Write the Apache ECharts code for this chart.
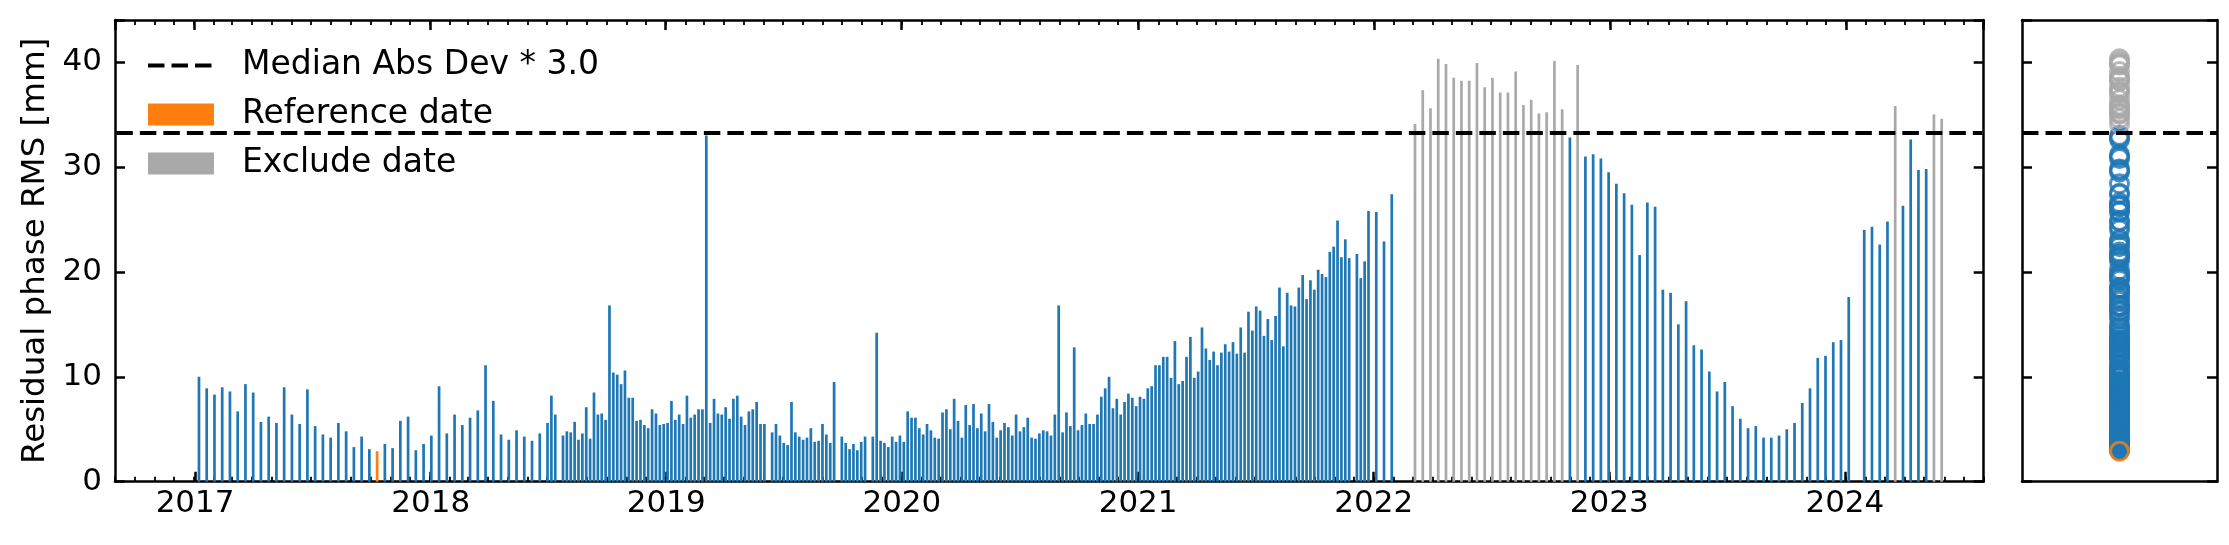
<!DOCTYPE html>
<html><head><meta charset="utf-8">
<script src="https://cdn.jsdelivr.net/npm/echarts@6/dist/echarts.min.js"></script>
<style>html,body{margin:0;padding:0;background:#fff}#c{width:2229px;height:545px}</style>
</head><body><div id="c"></div>
<script>
// ---------------- data ----------------
// acquisition dates, in days since 2017-01-01
const acqDay = [
  // 2017 - mid 2018 (12-day)
  6,18,30,42,54,66,78,90,102,114,126,138,150,162,174,186,198,210,222,234,246,258,270,282,294,306,318,330,342,354,366,378,390,402,414,426,438,450,462,474,486,498,510,
  // mid 2018 - 2019 (6-day)
  522,534,546,552,558,
  570,576,582,588,594,600,606,612,618,624,630,636,642,648,654,660,666,672,678,684,690,696,702,708,714,720,726,732,738,744,750,756,762,768,774,780,786,792,798,804,810,816,822,828,834,840,846,852,858,864,870,876,882,
  894,900,906,912,918,924,930,936,942,948,954,960,966,972,978,984,990,
  1002,1008,1014,1020,1026,1032,1038,
  1050,1056,
  // 2019.9 - 2021.6
  1062,1068,1074,1080,1086,1092,1098,1104,1110,1116,1122,1128,1134,1140,1146,1152,1158,1164,1170,1176,1182,1188,1194,1200,1206,1212,1218,1224,1230,1236,1242,1248,1254,1260,1266,1272,1278,1284,1290,1296,1302,1308,1314,1320,1326,1332,1338,1344,1350,1356,1362,1368,1374,1380,1386,1392,1398,1404,1410,1416,1422,1428,1434,1440,1446,1452,1458,1464,1470,1476,1482,1488,1494,1500,1506,1512,1518,1524,1530,1536,1542,1548,1554,1560,1566,1572,1578,1584,1590,1596,1602,1608,1614,1620,1626,1632,1638,1644,1650,1656,1662,1668,1674,
  // late 2021 - early 2022
  1680,1686,1692,1698,1704,1710,1716,1722,1728,1734,1740,1746,1752,1758,1764,1770,1776,1782,1788,1800,1806,1812,1818,1830,1842,1854,
  // 2022 - 2024 (12-day)
  1890,1902,1914,1926,1938,1950,1962,1974,1986,1998,2010,2022,2034,2046,2058,2070,2082,2094,2106,2118,2130,2142,2154,2166,2178,2190,2202,2214,2226,2238,2250,2262,2274,2286,2298,2310,2322,2334,2346,2358,2370,2382,2394,2406,2418,2430,2442,2454,2466,2478,2490,2502,2514,2526,2538,2550,2562,
  2586,2598,2610,2622,2634,2646,2658,2670,2682,2694,2706
];
// residual phase RMS [mm], one value per acquisition date
const rms = [
  10.0,8.9,8.3,9.0,8.6,6.7,9.3,8.5,5.7,6.2,5.6,9.0,6.4,5.5,8.8,5.3,4.5,4.2,5.6,4.8,3.3,4.3,3.1,2.9,3.6,3.2,5.8,6.2,3.0,3.6,4.4,9.1,4.6,6.4,5.4,6.1,6.8,11.1,7.7,4.5,4.0,4.9,4.3,
  3.9,4.6,5.6,8.2,6.4,
  4.4,4.8,4.7,5.7,4.0,4.6,7.1,4.1,8.5,6.4,6.5,5.9,16.8,10.4,10.2,9.3,10.6,8.0,8.0,5.8,5.9,5.4,5.1,6.9,6.5,5.4,5.5,5.6,7.7,5.9,6.4,5.5,8.2,6.1,6.4,6.9,6.9,33.0,5.6,7.9,6.5,6.4,7.1,6.0,7.9,8.2,6.2,5.4,6.7,6.9,7.6,5.5,5.5,
  4.7,5.5,4.4,3.7,3.5,7.6,4.7,4.3,4.0,4.2,5.1,3.8,3.9,5.5,4.5,3.7,9.5,
  4.3,3.7,3.1,3.6,3.0,3.8,4.3,
  4.3,14.2,
  3.9,3.7,3.3,4.3,3.8,4.4,3.8,6.7,6.1,6.1,
  5.1,4.5,5.5,4.9,4.2,4.1,6.6,6.9,5.0,7.9,
  5.8,4.2,7.3,5.4,7.4,5.1,6.5,4.8,7.4,5.7,
  4.2,4.9,5.6,5.2,4.4,6.4,4.8,5.2,6.1,4.2,
  4.1,4.6,4.9,4.8,4.4,6.4,16.8,4.7,6.6,5.3,
  12.8,4.9,5.4,6.5,5.5,5.5,6.4,8.1,8.9,10.0,
  7.0,7.9,6.4,7.6,8.4,8.0,7.2,8.1,7.9,8.9,
  9.1,11.1,11.1,11.9,11.9,9.9,13.4,9.3,9.6,11.9,
  13.8,9.9,10.5,14.7,12.7,11.6,12.4,11.1,12.3,13.1,
  12.4,13.3,12.2,14.7,12.3,16.2,14.4,16.7,16.3,13.9,
  15.5,13.5,15.8,
  18.5,12.9,18.0,16.8,16.7,18.5,19.7,17.4,19.2,18.3,20.2,19.8,19.5,21.9,22.4,24.9,21.4,23.1,21.3,21.7,19.4,21.0,25.8,25.7,22.9,27.4,
  34.1,37.3,35.6,40.3,39.8,38.5,38.2,38.2,39.9,37.6,38.5,37.1,37.1,39.1,35.9,36.4,35.1,35.2,40.1,35.5,32.8,39.7,31.0,31.2,30.8,29.5,28.4,27.5,26.4,21.6,26.6,26.2,18.3,18.0,15.0,17.2,13.0,12.6,10.5,8.6,9.5,7.2,6.0,5.1,5.3,4.2,4.2,4.4,5.0,5.6,7.5,8.9,11.8,12.0,13.3,13.5,17.6,
  24.0,24.3,22.6,24.8,35.8,26.3,32.6,29.7,29.8,35.0,34.6
];
const referenceDay = 282;   // reference date (orange)
const excludeDays = [1890,1902,1914,1926,1938,1950,1962,1974,1986,1998,2010,2022,2034,2046,2058,2070,2082,2094,2106,2118,2142,2634,2694,2706];
const threshold = 33.24;    // Median Abs Dev * 3.0
const yTicks = [0, 10, 20, 30, 40];
const legendNames = ['Median Abs Dev * 3.0', 'Reference date', 'Exclude date'];

// ---------------- build ----------------
const DAY = 86400000;
const EPOCH = Date.UTC(2017, 0, 1);
const X_MIN = Date.UTC(2016, 8, 1), X_MAX = Date.UTC(2024, 7, 1);
const normal = [], ref = [], excl = [], sNormal = [], sRef = [], sExcl = [];
acqDay.forEach((d, i) => {
  const t = EPOCH + d * DAY, v = rms[i];
  if (d === referenceDay) { ref.push([t, v]); sRef.push([0, v]); }
  else if (excludeDays.indexOf(d) >= 0) { excl.push([t, v]); sExcl.push([0, v]); }
  else { normal.push([t, v]); sNormal.push([0, v]); }
});
if (acqDay.length !== rms.length) console.warn('length mismatch', acqDay.length, rms.length);

const FONT = 'DejaVu Sans';
const BLUE = '#1f77b4', ORANGE = '#ff7f0e', GRAY = '#a9a9a9';
const FRAME = { show: true, onZero: false, lineStyle: { color: '#000', width: 2.5 } };
const DASH = { color: '#000', width: 4, type: [16.5, 7] };
const BAR_W = 2.7;
const yearLabel = v => { const d = new Date(v); return (d.getUTCMonth() === 0 && d.getUTCDate() === 1) ? String(d.getUTCFullYear()) : ''; };

function timeAxis(pos, major, labels) {
  return {
    type: 'time', gridIndex: 0, position: pos, min: X_MIN, max: X_MAX,
    minInterval: major ? 365 * DAY : 28 * DAY, maxInterval: major ? 366 * DAY : 31 * DAY,
    axisLine: major ? FRAME : { show: false, onZero: false },
    axisTick: { show: true, inside: true, length: major ? 10 : 5, lineStyle: { color: '#000', width: major ? 2.5 : 1.8 } },
    axisLabel: labels ? { show: true, formatter: yearLabel, fontSize: 31, color: '#000', fontFamily: FONT, margin: 7, hideOverlap: false } : { show: false },
    splitLine: { show: false }, minorTick: { show: false }
  };
}
function yAxis(grid, pos, labels) {
  return {
    type: 'value', gridIndex: grid, position: pos, min: 0, max: 44, interval: 10,
    axisLine: FRAME,
    axisTick: { show: true, inside: true, length: 10, lineStyle: { color: '#000', width: 2.5 } },
    axisLabel: labels ? { show: true, fontSize: 31, color: '#000', fontFamily: FONT, margin: 13,
      formatter: v => yTicks.indexOf(v) >= 0 ? String(v) : '' } : { show: false },
    splitLine: { show: false },
    name: labels ? 'Residual phase RMS [mm]' : '', nameLocation: 'middle', nameGap: 62,
    nameTextStyle: { fontSize: 32.5, color: '#000', fontFamily: FONT }
  };
}
function sideX(pos) {
  return { type: 'value', gridIndex: 1, position: pos, min: -1, max: 1, axisLine: FRAME,
    axisTick: { show: false }, axisLabel: { show: false }, splitLine: { show: false } };
}
const circle = c => ({ color: 'rgba(0,0,0,0)', borderColor: c, borderWidth: 3 });

const option = {
  animation: false, useUTC: true,
  textStyle: { fontFamily: FONT },
  grid: [
    { left: 115, top: 20, width: 1868.7, height: 461.7, outerBoundsMode: 'none', containLabel: false },
    { left: 2022, top: 20, width: 195, height: 461.7, outerBoundsMode: 'none', containLabel: false }
  ],
  legend: {
    orient: 'vertical', left: 146, top: 49, padding: 0, itemWidth: 66, itemHeight: 22, itemGap: 16,
    selectedMode: false,
    lineStyle: { width: 4 },
    data: [{ name: legendNames[0], itemStyle: { opacity: 0 } }, { name: legendNames[1], icon: 'rect' }, { name: legendNames[2], icon: 'rect' }],
    textStyle: { fontSize: 33, color: '#000', fontFamily: FONT, lineHeight: 33, padding: [0, 0, 0, 23] }
  },
  xAxis: [timeAxis('bottom', true, true), timeAxis('bottom', false, false), timeAxis('top', true, false), timeAxis('top', false, false), sideX('bottom'), sideX('top')],
  yAxis: [yAxis(0, 'left', true), yAxis(0, 'right', false), yAxis(1, 'left', false), yAxis(1, 'right', false)],
  series: [
    { name: 'Residual', type: 'bar', xAxisIndex: 0, yAxisIndex: 0, data: normal, barWidth: BAR_W, barGap: '-100%', itemStyle: { color: BLUE }, silent: true },
    { name: legendNames[1], type: 'bar', xAxisIndex: 0, yAxisIndex: 0, data: ref, barWidth: BAR_W, barGap: '-100%', itemStyle: { color: ORANGE }, silent: true },
    { name: legendNames[2], type: 'bar', xAxisIndex: 0, yAxisIndex: 0, data: excl, barWidth: BAR_W, barGap: '-100%', itemStyle: { color: GRAY }, silent: true },
    { name: legendNames[0], type: 'line', xAxisIndex: 0, yAxisIndex: 0, data: [[X_MIN, threshold], [X_MAX, threshold]], symbol: 'none', lineStyle: DASH, itemStyle: { color: 'rgba(0,0,0,0)' }, z: 10, silent: true },
    { name: 'side-normal', type: 'scatter', xAxisIndex: 4, yAxisIndex: 2, data: sNormal, symbol: 'circle', symbolSize: 18, itemStyle: circle(BLUE), silent: true },
    { name: 'side-exclude', type: 'scatter', xAxisIndex: 4, yAxisIndex: 2, data: sExcl, symbol: 'circle', symbolSize: 18, itemStyle: circle(GRAY), silent: true },
    { name: 'side-reference', type: 'scatter', xAxisIndex: 4, yAxisIndex: 2, data: sRef, symbol: 'circle', symbolSize: 18, itemStyle: circle(ORANGE), silent: true },
    { name: 'side-threshold', type: 'line', xAxisIndex: 4, yAxisIndex: 2, data: [[-1, threshold], [1, threshold]], symbol: 'none', lineStyle: DASH, z: 10, silent: true }
  ]
};
const chart = echarts.init(document.getElementById('c'), null, { renderer: 'canvas' });
chart.setOption(option);
</script>
</body></html>
